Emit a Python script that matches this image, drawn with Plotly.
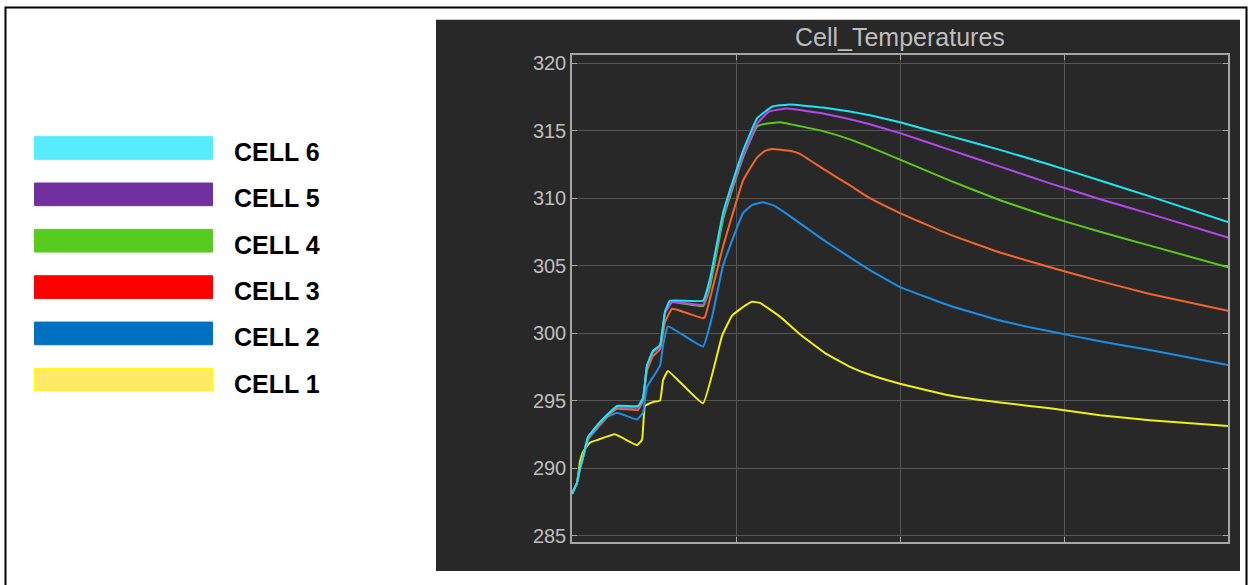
import plotly.graph_objects as go

W, H = 1249, 585

# ---------------- data ----------------
series_names = ["CELL 6", "CELL 5", "CELL 4", "CELL 3", "CELL 2", "CELL 1"]

time_c6 = [0, 0.03, 0.049, 0.067, 0.098, 0.159, 0.22, 0.274, 0.402, 0.433, 0.457, 0.494, 0.537, 0.567,
           0.598, 0.799, 0.841, 0.921, 0.982, 1.043, 1.128, 1.177, 1.226, 1.329, 1.53, 1.695, 1.817, 2.0,
           2.305, 2.61, 2.915, 3.22, 3.524, 4.0]
temp_c6 = [288.1, 288.9, 290.0, 290.8, 292.3, 293.25, 294.0, 294.6, 294.6, 295.2, 297.6, 298.7, 299.1, 301.6,
           302.4, 302.4, 304.0, 308.9, 311.3, 313.5, 315.9, 316.4, 316.8, 316.93, 316.71, 316.42, 316.13, 315.62,
           314.59, 313.57, 312.47, 311.30, 310.13, 308.23]

time_c5 = [0, 0.03, 0.049, 0.067, 0.098, 0.159, 0.22, 0.274, 0.402, 0.433, 0.457, 0.494, 0.537, 0.567,
           0.61, 0.799, 0.841, 0.921, 0.982, 1.043, 1.128, 1.201, 1.311, 1.53, 1.695, 1.817, 2.0,
           2.305, 2.61, 2.915, 3.22, 3.524, 4.0]
temp_c5 = [288.1, 288.9, 290.0, 290.8, 292.3, 293.2, 294.0, 294.5, 294.5, 295.1, 297.5, 298.6, 299.0, 301.5,
           302.3, 302.1, 303.8, 308.7, 311.0, 313.1, 315.5, 316.4, 316.64, 316.27, 315.84, 315.47, 314.81,
           313.57, 312.33, 311.09, 309.92, 308.83, 307.07]

time_c4 = [0, 0.03, 0.049, 0.067, 0.098, 0.159, 0.22, 0.274, 0.402, 0.433, 0.457, 0.494, 0.537, 0.567,
           0.61, 0.799, 0.841, 0.921, 0.982, 1.043, 1.128, 1.177, 1.268, 1.53, 1.695, 1.817, 2.0,
           2.305, 2.61, 2.915, 3.22, 3.524, 4.0]
temp_c4 = [288.1, 288.9, 290.0, 290.8, 292.3, 293.2, 294.0, 294.5, 294.5, 295.1, 297.5, 298.6, 299.0, 301.5,
           302.3, 302.0, 303.4, 308.4, 310.8, 313.0, 315.3, 315.5, 315.62, 314.96, 314.35, 313.78, 312.85,
           311.3, 309.84, 308.60, 307.51, 306.48, 304.88]

time_c3 = [0, 0.03, 0.049, 0.067, 0.098, 0.159, 0.22, 0.274, 0.402, 0.433, 0.457, 0.494, 0.537, 0.567,
           0.61, 0.799, 0.811, 0.921, 1.043, 1.128, 1.177, 1.22, 1.329, 1.39, 1.53, 1.695, 1.817, 2.0,
           2.305, 2.61, 2.915, 3.22, 3.524, 4.0]
temp_c3 = [288.1, 288.9, 290.0, 290.8, 292.2, 293.1, 293.9, 294.4, 294.3, 295.0, 297.2, 298.3, 298.8, 300.8,
           301.8, 301.1, 301.2, 306.4, 311.3, 313.0, 313.5, 313.64, 313.50, 313.28, 312.18, 310.94, 309.99, 308.89,
           307.29, 305.97, 304.88, 303.85, 302.90, 301.66]

time_c2 = [0, 0.03, 0.049, 0.067, 0.098, 0.159, 0.22, 0.274, 0.396, 0.433, 0.457, 0.537, 0.555, 0.585,
           0.799, 0.854, 0.921, 1.043, 1.098, 1.165, 1.238, 1.329, 1.53, 1.695, 1.817, 2.0,
           2.305, 2.61, 2.915, 3.22, 3.524, 4.0]
temp_c2 = [288.1, 288.9, 290.0, 290.8, 292.1, 293.0, 293.8, 294.1, 293.6, 294.1, 296.0, 297.6, 299.1, 300.5,
           299.0, 301.2, 305.0, 308.89, 309.48, 309.70, 309.41, 308.67, 306.92, 305.61, 304.66, 303.41,
           302.03, 300.93, 300.13, 299.39, 298.74, 297.64]

time_c1 = [0, 0.03, 0.049, 0.067, 0.11, 0.159, 0.262, 0.396, 0.427, 0.445, 0.494, 0.537, 0.555, 0.585,
           0.799, 0.915, 0.976, 1.055, 1.098, 1.146, 1.268, 1.39, 1.543, 1.695, 1.817, 2.0, 2.305, 2.61, 2.915,
           3.22, 3.524, 4.0]
temp_c1 = [288.1, 288.9, 290.5, 291.2, 291.9, 292.1, 292.5, 291.7, 292.1, 294.6, 294.9, 295.0, 296.5, 297.2,
           294.8, 299.8, 301.3, 302.03, 302.32, 302.24, 301.22, 299.91, 298.52, 297.50, 296.91, 296.25, 295.38,
           294.86, 294.43, 293.91, 293.55, 293.11]

y_ticks = [285, 290, 295, 300, 305, 310, 315, 320]
x_ticks = [0, 1, 2, 3, 4]

# ---------------- styles ----------------
line_colors = ["#1BE6F2", "#B447EE", "#5CC91A", "#F4652A", "#1A8FE8", "#EFEF10"]
swatch_colors = ["#57EBFD", "#7030A0", "#57CC1F", "#FF0000", "#0070C0", "#FFE966"]
swatch_borders = ["#57EBFD", "#7030A0", "#57CC1F", "#FF0000", "#0070C0", "#FFFF00"]

times = [time_c6, time_c5, time_c4, time_c3, time_c2, time_c1]
temps = [temp_c6, temp_c5, temp_c4, temp_c3, temp_c2, temp_c1]


def px(x):
    return x / W


def py(y):
    return 1 - y / H


fig = go.Figure()
# draw cell 1 first so cell 6 ends up on top
for name, t, v, c in reversed(list(zip(series_names, times, temps, line_colors))):
    fig.add_trace(go.Scatter(x=t, y=v, mode="lines", name=name,
                             line=dict(color=c, width=2, shape="spline", smoothing=0.3),
                             showlegend=False))

shapes = []
# outer black border
shapes.append(dict(type="rect", xref="paper", yref="paper", layer="below",
                   x0=px(5.5), x1=px(1246.5), y0=py(600), y1=py(4.5),
                   line=dict(color="black", width=2), fillcolor="rgba(0,0,0,0)"))
# dark panel behind the axes
shapes.append(dict(type="rect", xref="paper", yref="paper", layer="below",
                   x0=px(436), x1=px(1240), y0=py(576), y1=py(17),
                   line=dict(width=0), fillcolor="#282828"))

annotations = []
legend_tops = [135, 182, 229, 276, 323, 370]
for name, top, fc, bc in zip(series_names, legend_tops, swatch_colors, swatch_borders):
    shapes.append(dict(type="rect", xref="paper", yref="paper",
                       x0=px(34.5), x1=px(212.5), y0=py(top + 23.5), y1=py(top + 0.5),
                       line=dict(color=bc, width=1), fillcolor=fc))
    annotations.append(dict(xref="paper", yref="paper", x=px(232), y=py(top + 16),
                            xanchor="left", yanchor="middle", showarrow=False,
                            text="<b>" + name + "</b>",
                            font=dict(family="Liberation Sans, Arial", size=25, color="black")))

annotations.append(dict(xref="paper", yref="paper", x=px(900), y=py(34),
                        xanchor="center", yanchor="middle", showarrow=False,
                        text="Cell_Temperatures",
                        font=dict(family="Liberation Sans, Arial", size=25, color="#BEBEBE")))

frame = "#A6A6A6"
grid = "#555555"

fig.update_layout(
    width=W, height=H,
    margin=dict(l=0, r=0, t=0, b=0),
    paper_bgcolor="white",
    plot_bgcolor="black",
    shapes=shapes,
    annotations=annotations,
    showlegend=False,
    xaxis=dict(domain=[px(572), px(1228)], range=[0, 4], tickvals=x_ticks,
               showticklabels=False, showgrid=True, gridcolor=grid, gridwidth=1,
               zeroline=False, showline=True, linecolor=frame, linewidth=1.5,
               mirror="allticks", ticks="inside", ticklen=5, tickcolor=frame),
    yaxis=dict(domain=[py(546), py(53)], range=[284.56, 320.58], tickvals=y_ticks,
               ticktext=[str(v) for v in y_ticks],
               showgrid=True, gridcolor=grid, gridwidth=1, zeroline=False,
               showline=True, linecolor=frame, linewidth=1.5,
               mirror="allticks", ticks="inside", ticklen=5, tickcolor=frame,
               tickfont=dict(family="Liberation Sans, Arial", size=20, color="#BEBEBE")),
)

fig.write_html("out.html")
